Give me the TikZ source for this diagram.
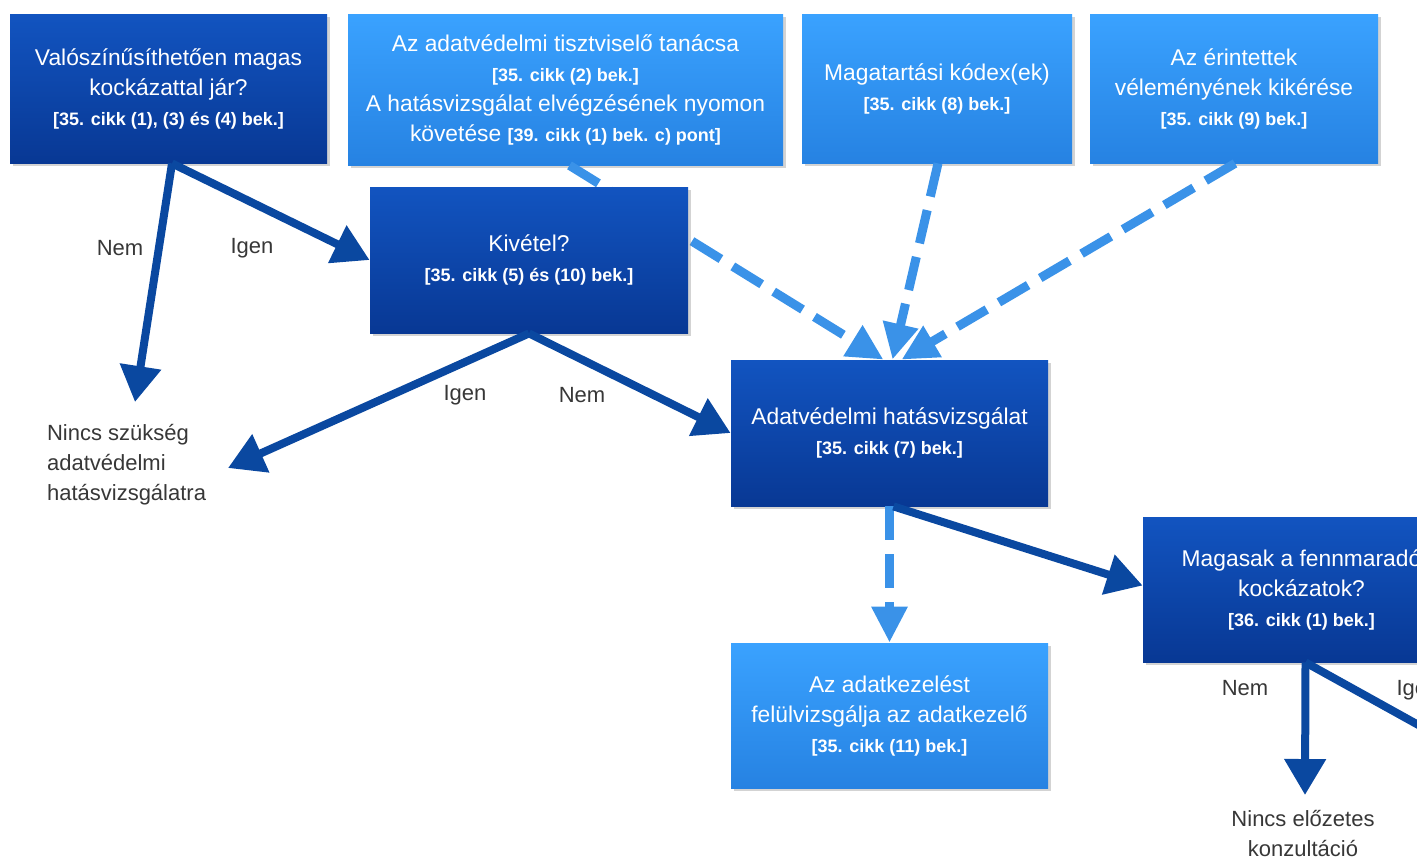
\documentclass[tikz,border=0pt]{standalone}
\usepackage{fontspec}
\setmainfont{Liberation Sans}
\usetikzlibrary{arrows.meta,shadows}
\definecolor{dkA}{RGB}{18,84,192}
\definecolor{dkB}{RGB}{8,56,148}
\definecolor{ltA}{RGB}{58,162,255}
\definecolor{ltB}{RGB}{38,130,226}
\definecolor{arrdk}{RGB}{10,72,160}
\definecolor{arrlt}{RGB}{58,146,232}
\definecolor{lbltxt}{RGB}{55,55,55}
\newcommand{\bk}[1]{{\fontsize{9}{15}\selectfont\bfseries #1}}
\tikzset{
  box/.style={rectangle, inner sep=2pt, align=center, text=white,
    font=\fontsize{11.4}{15}\selectfont,
    drop shadow={shadow xshift=1.5pt, shadow yshift=-1.5pt, opacity=0.35}},
  dbox/.style={box, top color=dkA, bottom color=dkB},
  lbox/.style={box, top color=ltA, bottom color=ltB},
  darr/.style={draw=arrdk, line width=4pt, -{Triangle[length=18pt,width=20pt]}},
  larr/.style={draw=arrlt, line width=4.5pt, dash pattern=on 17pt off 7pt,
    -{Triangle[length=18pt,width=17pt]}},
  lbl/.style={text=lbltxt, font=\fontsize{11}{15}\selectfont},
}
\begin{document}
\begin{tikzpicture}[x=0.5pt,y=-0.5pt]
\useasboundingbox (0,0) rectangle (1417,859);
\clip (0,0) rectangle (1417,859);
% top row
\node[dbox, minimum width=158.5pt, minimum height=74.5pt] (A) at (168.5,88.5)
  {Valószínűsíthetően magas\\ kockázattal jár?\\ \bk{[35. cikk (1), (3) és (4) bek.]}};
\node[lbox, minimum width=217.5pt, minimum height=75.5pt] (B) at (565.5,89.5)
  {Az adatvédelmi tisztviselő tanácsa\\ \bk{[35. cikk (2) bek.]}\\ A hatásvizsgálat elvégzésének nyomon\\ követése \bk{[39. cikk (1) bek. c) pont]}};
\node[lbox, minimum width=135pt, minimum height=74.5pt] (C) at (937,88.5)
  {Magatartási kódex(ek)\\ \bk{[35. cikk (8) bek.]}};
\node[lbox, minimum width=144pt, minimum height=74.5pt] (D) at (1234,88.5)
  {Az érintettek\\ véleményének kikérése\\ \bk{[35. cikk (9) bek.]}};
% middle
\node[dbox, minimum width=158.5pt, minimum height=73pt] (Adat) at (889.5,433)
  {Adatvédelmi hatásvizsgálat\\ \bk{[35. cikk (7) bek.]}};
\node[lbox, minimum width=158.5pt, minimum height=72.5pt] (Fel) at (889.5,715.5)
  {Az adatkezelést\\ felülvizsgálja az adatkezelő\\ \bk{[35. cikk (11) bek.]}};
\node[dbox, minimum width=158.5pt, minimum height=72.5pt] (Mag) at (1301.5,589.5)
  {Magasak a fennmaradó\\ kockázatok?\\ \bk{[36. cikk (1) bek.]}};
% dashed from B passes under Kivétel
\draw[larr] ([xshift=2pt]B.south) -- ([xshift=-3pt]Adat.north);
\node[dbox, minimum width=159pt, minimum height=73pt] (Kiv) at (529,260)
  {Kivétel?\\ \bk{[35. cikk (5) és (10) bek.]}};
\draw[larr] ([xshift=0.5pt]C.south) -- ([xshift=1.5pt]Adat.north);
\draw[larr] ([xshift=0.5pt]D.south) -- ([xshift=6pt]Adat.north);
\draw[larr] (Adat.south) -- (Fel.north);
% free text nodes
\node[lbl, anchor=west, align=left] (nsz) at (40,465)
  {Nincs szükség\\ adatvédelmi\\ hatásvizsgálatra};
\node[lbl, align=center] (nek) at (1303,833) {Nincs előzetes\\ konzultáció};
\coordinate (c1) at (135,402);
\coordinate (c2) at (228,468);
\coordinate (c3) at (1305,795);
\coordinate (c4) at (1460,748);
% dark arrows
\draw[darr] ([xshift=1.75pt]A.south) -- (c1);
\draw[darr] ([xshift=1.75pt]A.south) -- (Kiv.west);
\draw[darr] (Kiv.south) -- (c2);
\draw[darr] (Kiv.south) -- (Adat.west);
\draw[darr] ([xshift=2pt]Adat.south) -- ([yshift=2pt]Mag.west);
\draw[darr] ([xshift=2pt]Mag.south) -- (c3);
\draw[darr] ([xshift=2pt]Mag.south) -- (c4);
% labels
\node[lbl] (l1) at (120,248) {Nem};
\node[lbl] (l2) at (252,248) {Igen};
\node[lbl] (l3) at (465,395) {Igen};
\node[lbl] (l4) at (582,395) {Nem};
\node[lbl] (l5) at (1245,688) {Nem};
\node[lbl] (l6) at (1418,690) {Igen};
\end{tikzpicture}
\end{document}
